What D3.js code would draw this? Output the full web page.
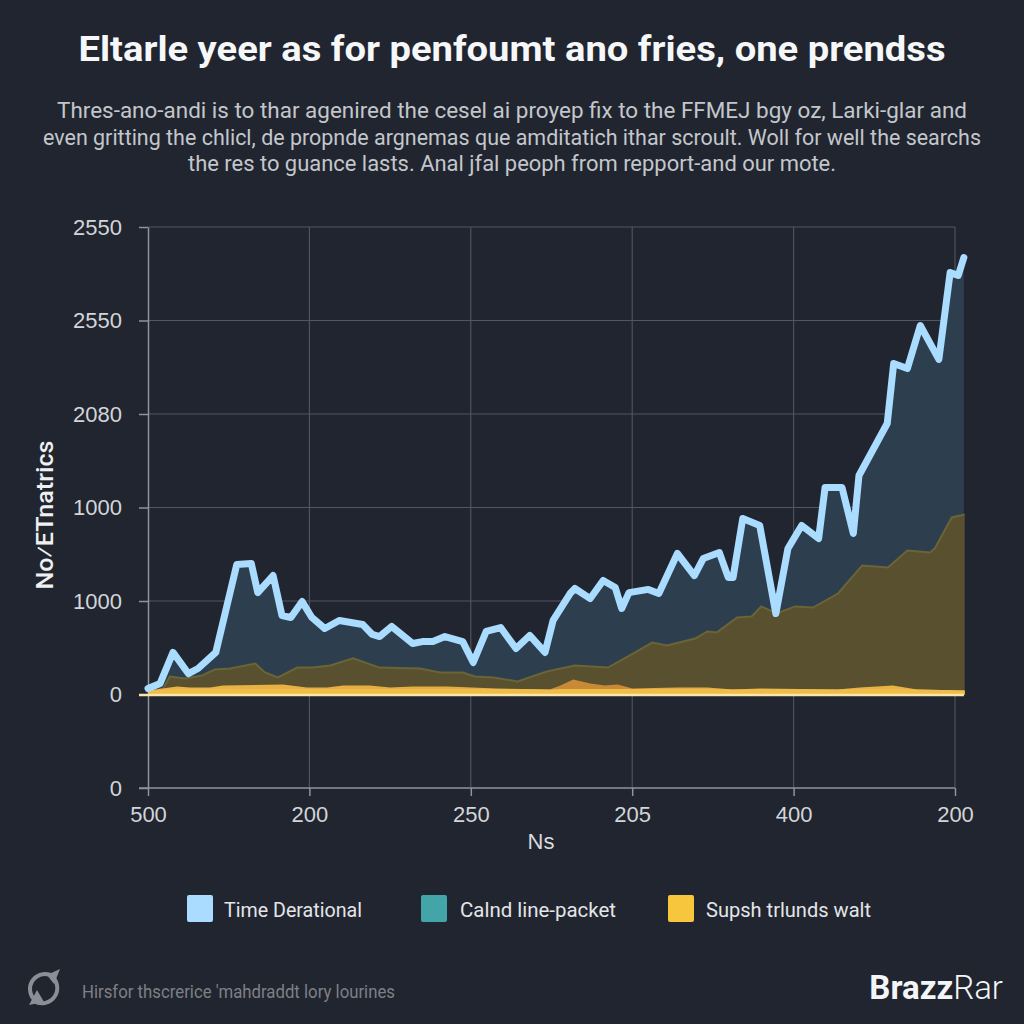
<!DOCTYPE html>
<html><head><meta charset="utf-8">
<style>html,body{margin:0;padding:0;background:#21252f}svg{display:block}</style>
<script src="https://cdn.jsdelivr.net/npm/d3@7/dist/d3.min.js"></script>
</head><body><svg id="c" width="1024" height="1024"></svg>
<script>
const titleText = "Eltarle yeer as for penfoumt ano fries, one prendss";
const subtitleLines = [
  "Thres-ano-andi is to thar agenired the cesel ai proyep fix to the FFMEJ bgy oz, Larki-glar and",
  "even gritting the chlicl, de propnde argnemas que amditatich ithar scroult. Woll for well the searchs",
  "the res to guance lasts.  Anal jfal peoph from repport-and our mote."
];
const yTickValues = [-500, 0, 500, 1000, 1500, 2000, 2500];
const yTickLabels = ["0", "0", "1000", "1000", "2080", "2550", "2550"];
const xTickValues = [0, 20, 40, 60, 80, 100];
const xTickLabels = ["500", "200", "250", "205", "400", "200"];
const legendNames = ["Time Derational", "Calnd line-packet", "Supsh trlunds walt"];
const legendColors = ["#a9dcff", "#43a5a8", "#f7c63d"];

const blueX = [0,1.5,3.1,5,6.2,8.4,11,12.8,13.6,15.5,16.6,17.7,19.1,20.3,21.9,23.7,26.6,27.8,28.7,30.2,32.8,34,35.3,36.8,39,40.3,41.9,43.7,45.6,47.3,49.2,50.2,52.3,52.9,54.8,56.4,57.9,58.7,59.6,62,63.3,65.6,67.7,68.8,70.8,71.9,72.5,73.7,75.8,77.8,79.3,81,83.1,83.9,86,87.4,88.1,91.6,92.4,94.1,95.7,98,99.4,100.4,101.1];
const blueY = [32,59,225,112,139,225,695,701,545,636,422,412,497,412,353,396,374,321,310,364,273,283,283,310,283,171,337,358,246,316,225,396,540,567,513,610,572,460,545,562,540,754,636,727,759,626,626,941,904,433,781,904,834,1107,1107,861,1171,1449,1770,1743,1973,1792,2257,2241,2337];

const oliveX = [0,1.9,2.7,4.6,6.7,8.3,10.2,13.3,14.5,16.1,18.5,20.4,22.6,25.4,28.7,33.7,36.2,39,40.5,42.8,45.8,49.4,52.9,57,59.7,62.5,64.3,67.8,69.3,70.5,73,74.8,76,77.9,80.2,82.4,85.5,88.5,91.7,94.1,96.9,97.5,99.6,101.2];
const oliveY = [5,32,96,86,102,134,139,166,118,91,144,144,155,193,144,139,118,118,96,91,70,123,155,144,209,278,262,299,337,332,412,417,471,433,471,465,540,690,679,770,759,781,947,963];

const amberX = [0,3.6,5.2,7.7,9.3,16.7,19.7,22.2,24.2,27.5,30,32.8,37.1,43.2,49.8,51.1,52.7,54.8,56.6,58.2,60,65.6,69.3,72.5,75.8,85.4,88.2,92.3,95.3,101.2];
const amberY = [21,43,37,37,48,53,37,37,48,48,37,43,43,32,27,48,80,59,48,53,32,37,37,27,32,27,37,48,27,21];
const amberBandY = [21,30,30,30,30,30,30,30,30,30,30,30,30,30,27,30,30,30,30,30,30,30,30,27,30,27,30,30,27,21];

const bg = "#21252f";
const svg = d3.select("#c");
svg.append("rect").attr("width",1024).attr("height",1024).attr("fill",bg);

const x = d3.scaleLinear().domain([0,100]).range([148,955]);
const y = d3.scaleLinear().domain([-500,2500]).range([788,227]);
const zip = (xs,ys)=>xs.map((v,i)=>[v,ys[i]]);
const xEnd = d3.max(blueX);

// title & subtitle
svg.append("text").text(titleText).attr("x",512).attr("y",61)
  .attr("text-anchor","middle").attr("font-family","Roboto").attr("font-weight",700)
  .attr("font-size",35).attr("fill","#f6f7f8")
  .attr("textLength",867).attr("lengthAdjust","spacingAndGlyphs");
const subW = [910, 938, 648];
svg.selectAll("text.sub").data(subtitleLines).join("text").attr("class","sub")
  .text(d=>d).attr("x",512).attr("y",(d,i)=>[118,145,171][i])
  .attr("text-anchor","middle").attr("font-family","Roboto").attr("font-size",22)
  .attr("fill","#c3c7cc").attr("textLength",(d,i)=>subW[i]).attr("lengthAdjust","spacingAndGlyphs");

// grid
const gridCol = "#525661";
svg.append("g").selectAll("line").data(yTickValues.filter(v=>v>-500)).join("line")
  .attr("x1",x(0)).attr("x2",x(100)).attr("y1",d=>y(d)).attr("y2",d=>y(d))
  .attr("stroke",gridCol).attr("stroke-width",1.1);
svg.append("g").selectAll("line").data(xTickValues.slice(1)).join("line")
  .attr("x1",d=>x(d)).attr("x2",d=>x(d)).attr("y1",y(2500)).attr("y2",y(-500))
  .attr("stroke",gridCol).attr("stroke-width",1.1);

// axes
const xAxis = d3.axisBottom(x).tickValues(xTickValues).tickFormat((d,i)=>xTickLabels[i]).tickSize(8).tickPadding(10).tickSizeOuter(0);
const yAxis = d3.axisLeft(y).tickValues(yTickValues).tickFormat((d,i)=>yTickLabels[i]).tickSize(9).tickPadding(17).tickSizeOuter(0);
const gx = svg.append("g").attr("transform",`translate(0,${y(-500)})`).call(xAxis);
const gy = svg.append("g").attr("transform",`translate(${x(0)},0)`).call(yAxis);
[gx,gy].forEach(g=>{
  g.selectAll("path,line").attr("stroke","#8f939b").attr("stroke-width",1.5);
  g.selectAll("text").attr("font-family","'Liberation Sans'").attr("font-size",22).attr("fill","#d2d5d9");
});
gx.select(".domain").attr("d",`M139,0H${x(100)}`);

// amber colour shifts to orange where the bump sits
const defs = svg.append("defs");
const grad = defs.append("linearGradient").attr("id","amberFill").attr("gradientUnits","userSpaceOnUse")
  .attr("x1",x(0)).attr("x2",x(xEnd)).attr("y1",0).attr("y2",0);
[[0,"#e9b543"],[0.47,"#e3ab3e"],[0.5,"#c98a35"],[0.58,"#c98a35"],[0.62,"#e3ab3e"],[1,"#e9b543"]]
  .forEach(s=>grad.append("stop").attr("offset",s[0]).attr("stop-color",s[1]));

// areas
const area = d3.area().x(d=>x(d[0])).y0(y(0)).y1(d=>y(d[1]));
const line = d3.line().x(d=>x(d[0])).y(d=>y(d[1]));
const bluePts = zip(blueX,blueY), olivePts = zip(oliveX,oliveY), amberPts = zip(amberX,amberY), bandPts = zip(amberX,amberBandY);
svg.append("path").attr("d",area(bluePts)).attr("fill","#2d3f4f");
svg.append("path").attr("d",area(olivePts)).attr("fill","#595030");
svg.append("path").attr("d",line(olivePts)).attr("fill","none").attr("stroke","#6b6436").attr("stroke-width",2);
svg.append("path").attr("d",area(amberPts)).attr("fill","url(#amberFill)");
svg.append("path").attr("d",area(bandPts)).attr("fill","#efbd4b");
svg.append("line").attr("x1",x(0)-9).attr("x2",x(xEnd)).attr("y1",y(0)+0.5).attr("y2",y(0)+0.5)
  .attr("stroke","#f9e6a8").attr("stroke-width",2.5);
svg.append("path").attr("d",line(bluePts)).attr("fill","none").attr("stroke","#a9dcff")
  .attr("stroke-width",7).attr("stroke-linejoin","round").attr("stroke-linecap","round");

// axis title
svg.append("text").text("No⁄ETnatrics").attr("transform","translate(53,515) rotate(-90)")
  .attr("text-anchor","middle").attr("font-family","Roboto").attr("font-weight",500)
  .attr("font-size",24).attr("fill","#eef0f2").attr("textLength",149).attr("lengthAdjust","spacingAndGlyphs");
svg.append("text").text("Ns").attr("x",541).attr("y",849).attr("text-anchor","middle")
  .attr("font-family","'Liberation Sans'").attr("font-size",22).attr("fill","#d8dadd");

// legend
const legX = [187,421,668], legT=[224,460,706], legW=[138,156,165];
const lg = svg.append("g").selectAll("g").data(legendNames).join("g");
lg.append("rect").attr("x",(d,i)=>legX[i]).attr("y",895).attr("width",26).attr("height",27).attr("rx",2)
  .attr("fill",(d,i)=>legendColors[i]);
lg.append("text").text(d=>d).attr("x",(d,i)=>legT[i]).attr("y",917).attr("font-family","Roboto")
  .attr("font-size",21).attr("fill","#e4e6e9").attr("textLength",(d,i)=>legW[i]).attr("lengthAdjust","spacingAndGlyphs");

// footer
const ic = svg.append("g").attr("transform","translate(43,988)").attr("fill","none").attr("stroke","#8b8e94").attr("stroke-width",4);
ic.append("path").attr("d","M-7,13 A15,15 0 0 1 11,-11");
ic.append("path").attr("d","M7,-13 A15,15 0 0 1 -9,13");
ic.append("path").attr("d","M17,-19 L11,-4 L4,-13Z M-14,17 L-6,2 L1,14Z").attr("fill","#8b8e94").attr("stroke","none");
svg.append("text").text("Hirsfor thscrerice 'mahdraddt lory lourines").attr("x",82).attr("y",998)
  .attr("font-family","Roboto").attr("font-size",18).attr("fill","#7d8087")
  .attr("textLength",313).attr("lengthAdjust","spacingAndGlyphs");
const br = svg.append("text").attr("x",1003).attr("y",999).attr("text-anchor","end")
  .attr("font-family","Roboto").attr("font-size",33).attr("fill","#f4f5f6");
br.append("tspan").text("Brazz").attr("font-weight",700);
br.append("tspan").text("Rar").attr("font-weight",300);
</script></body></html>
